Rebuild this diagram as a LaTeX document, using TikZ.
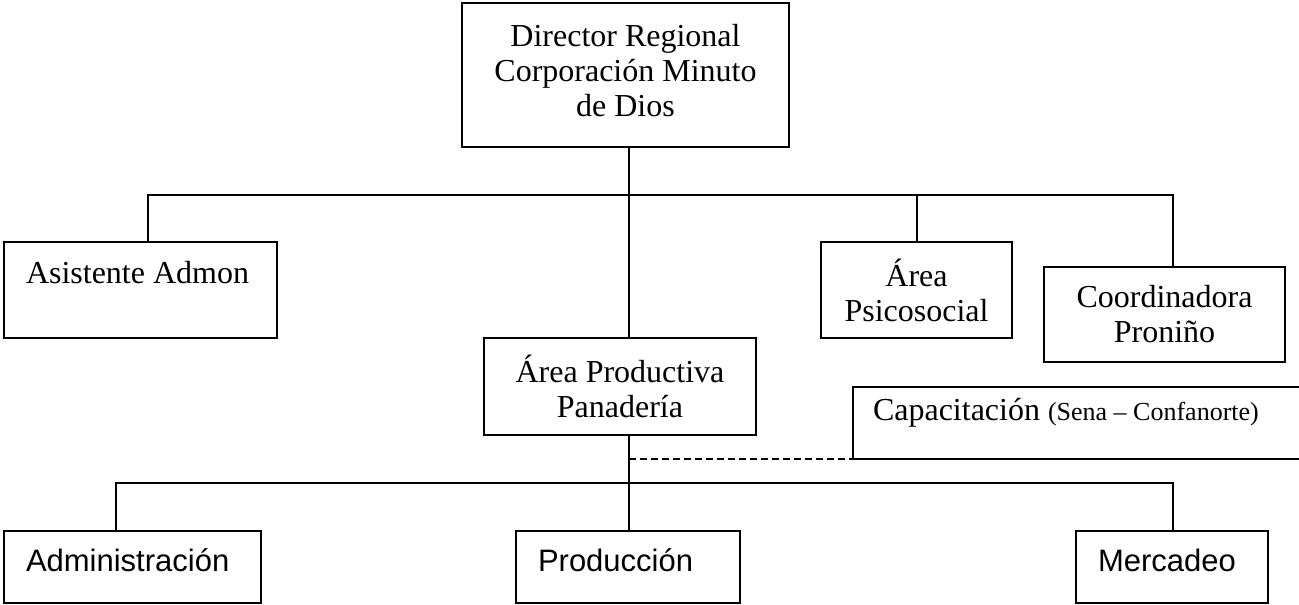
\documentclass[tikz,border=0pt]{standalone}
\usepackage{fontspec}
\setmainfont{Liberation Serif}
\newfontfamily\arialFamily{Liberation Sans}
\usepackage{tikz}
\newcommand{\serifSize}{\fontsize{32}{35}\selectfont}
\newcommand{\smallSerif}{\fontsize{26}{30}\selectfont}
\newcommand{\sansSize}{\arialFamily\fontsize{31}{35}\selectfont}
\newcommand{\topBranch}{%%
  %% The upper bus with its drops.
  \draw[lineStyle] (asistente.north -| dropAsistente) -- (dropAsistente |- busTop)
    -- (dropCoordinadora |- busTop) -- (coordinadora.north -| dropCoordinadora);
  \draw[lineStyle] (psicosocial.north -| dropPsicosocial) -- (dropPsicosocial |- busTop);
}
\newcommand{\lowBranch}{%%
  %% The lower bus with its drops.
  \draw[lineStyle] (administracion.north -| dropAdministracion) -- (dropAdministracion |- busLow)
    -- (dropMercadeo |- busLow) -- (mercadeo.north -| dropMercadeo);
}
\newcommand{\spineLine}{%%
  %% The vertical line through the middle.
  \draw[lineStyle] (spine |- director.south) -- (spine |- productiva.north);
  \draw[lineStyle] (spine |- productiva.south) -- (spine |- produccion.north);
  %% Dashed link to the training box.
  \draw[dashStyle] (spine |- capacitacion.south) -- (capacitacion.south west);
}

\begin{document}
\begin{tikzpicture}[%%
  x=1pt,y=-1pt,%%
  boxStyle/.style={draw,line width=1.8pt,inner sep=0pt,outer sep=0pt,anchor=north west,font=\serifSize},%%
  centerBox/.style={boxStyle,align=center},%%
  leftBox/.style={boxStyle,align=flush left},%%
  lowBox/.style={leftBox,font=\sansSize,inner xsep=22pt,text height=40pt,text depth=32pt},%%
  lineStyle/.style={-,line width=1.5pt},%%
  dashStyle/.style={-,line width=1.5pt,dash pattern=on 7pt off 4pt}
]
\useasboundingbox (0,0) rectangle (1299,605);
%%
%%
\pgfmathsetmacro{\xspine}{629}
\pgfmathsetmacro{\ybusTop}{195}
\pgfmathsetmacro{\ybusLow}{483}
%% Bus levels and drop positions.
\coordinate (spine) at (\xspine,0);
\coordinate (busTop) at (0,\ybusTop);
\coordinate (busLow) at (0,\ybusLow);
\coordinate (dropAsistente) at (148,0);
\coordinate (dropPsicosocial) at (917,0);
\coordinate (dropCoordinadora) at (1173,0);
\coordinate (dropAdministracion) at (116,0);
\coordinate (dropMercadeo) at (1173,0);
%% The boxes.
\node[centerBox,minimum width=327pt,minimum height=144pt] (director) at (462,3) {Director Regional\\Corporación Minuto\\de Dios\rule[-10pt]{0pt}{0pt}};
\node[leftBox,inner xsep=22pt,text width=229pt,text height=41pt,text depth=55pt] (asistente) at (4,242) {Asistente Admon};
\node[centerBox,minimum width=191pt,minimum height=96pt] (psicosocial) at (821,242) {Área\\Psicosocial};
\node[centerBox,minimum width=241pt,minimum height=95pt] (coordinadora) at (1044,267) {Coordinadora\\Proniño};
\node[centerBox,minimum width=272pt,minimum height=97pt] (productiva) at (484,338) {Área Productiva\\Panadería};
\node[leftBox,inner xsep=20pt,text width=427pt,text height=33pt,text depth=39pt] (capacitacion) at (853,387) {Capacitación {\smallSerif(Sena – Confanorte)}};
\node[lowBox,text width=213pt] (administracion) at (4,531) {Administración};
\node[lowBox,text width=180pt] (produccion) at (516,531) {Producción};
\node[lowBox,text width=148pt] (mercadeo) at (1076,531) {Mercadeo};
%%
%%
%% Connect the chart.
\topBranch
\spineLine
\lowBranch
\end{tikzpicture}
\end{document}
